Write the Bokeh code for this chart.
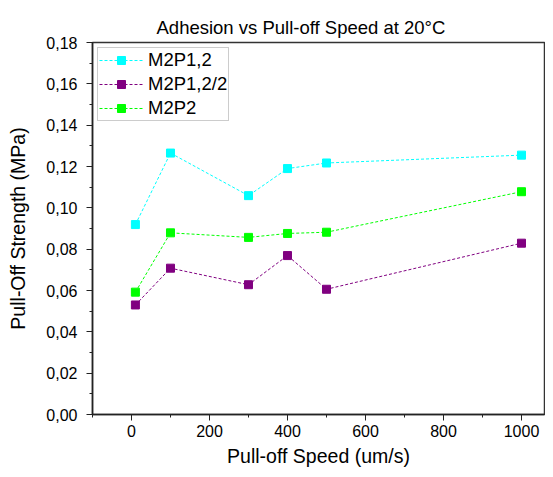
from bokeh.plotting import figure
from bokeh.models import Range1d, SingleIntervalTicker, CustomJSTickFormatter, Legend, LegendItem
from bokeh.embed import file_html
from bokeh.resources import INLINE

speed = [10, 100, 300, 400, 500, 1000]
m2p12 = [0.0919, 0.1265, 0.1059, 0.1190, 0.1217, 0.1255]
m2p122 = [0.0530, 0.0708, 0.0628, 0.0769, 0.0606, 0.0829]
m2p2 = [0.0592, 0.0879, 0.0857, 0.0876, 0.0882, 0.1078]

series = [("M2P1,2", m2p12, "#00FFFF"),
          ("M2P1,2/2", m2p122, "#800080"),
          ("M2P2", m2p2, "#00FF00")]

FONT = "Liberation Sans"

p = figure(width=545, height=469, output_backend="svg", toolbar_location=None,
           x_range=Range1d(-100, 1059), y_range=Range1d(0, 0.18),
           min_border_left=92, min_border_right=1, min_border_top=42, min_border_bottom=50)
p.title.text = "Adhesion vs Pull-off Speed at 20°C"
p.title.align = "left"
p.title.offset = 64
p.title.text_font = FONT
p.title.text_font_size = "18.5px"
p.title.text_font_style = "normal"
p.title.text_color = "#000000"

p.xgrid.visible = False
p.ygrid.visible = False
p.outline_line_color = "#333333"
p.outline_line_width = 1.5

p.xaxis.ticker = SingleIntervalTicker(interval=200, num_minor_ticks=2)
p.yaxis.ticker = SingleIntervalTicker(interval=0.02, num_minor_ticks=2)
p.yaxis.formatter = CustomJSTickFormatter(code="return tick.toFixed(2).replace('.', ',');")
for ax in (p.xaxis, p.yaxis):
    ax.axis_line_color = "#222222"
    ax.axis_line_width = 1.5
    ax.major_tick_line_color = "#222222"
    ax.minor_tick_line_color = "#222222"
    ax.major_tick_out = 6
    ax.major_tick_in = 0
    ax.minor_tick_out = 3
    ax.minor_tick_in = 0
    ax.major_label_text_font = FONT
    ax.major_label_text_font_size = "16px"
    ax.major_label_text_color = "#000000"
    ax.axis_label_text_font = FONT
    ax.axis_label_text_font_size = "19.5px"
    ax.axis_label_text_font_style = "normal"
    ax.axis_label_text_color = "#000000"
p.yaxis.major_label_standoff = 9
p.xaxis.major_label_standoff = 4
p.xaxis.axis_label_standoff = 5
p.yaxis.axis_label_standoff = 14
p.xaxis.axis_label = "Pull-off Speed (um/s)"
p.yaxis.axis_label = "Pull-Off Strength (MPa)"

items = []
for name, vals, col in series:
    ln = p.line(speed, vals, line_color=col, line_width=1, line_dash="3 2")
    sq = p.scatter(speed, vals, marker="square", size=8, fill_color=col, line_color=col)
    items.append(LegendItem(label=name, renderers=[ln, sq]))

legend = Legend(items=items, location="top_left")
legend.label_text_font = FONT
legend.label_text_font_size = "18.5px"
legend.label_text_color = "#000000"
legend.glyph_width = 44
legend.glyph_height = 20
legend.label_height = 20
legend.spacing = 2
legend.padding = 1
legend.margin = 5
legend.border_line_color = "#999999"
legend.border_line_width = 1
legend.label_standoff = 5
p.add_layout(legend)

open("out.html", "w").write(file_html(p, INLINE))
